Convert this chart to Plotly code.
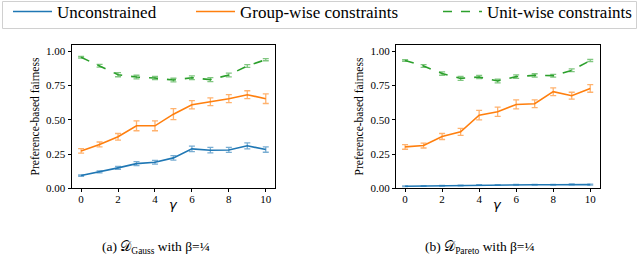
import plotly.graph_objects as go

gamma = list(range(11))

# Left panel: D_Gauss
a_unc = [0.093, 0.120, 0.149, 0.180, 0.190, 0.222, 0.288, 0.278, 0.280, 0.310, 0.283]
a_unc_err = [0.005, 0.007, 0.010, 0.014, 0.014, 0.016, 0.020, 0.020, 0.018, 0.022, 0.020]
a_grp = [0.273, 0.320, 0.376, 0.456, 0.456, 0.541, 0.610, 0.632, 0.654, 0.683, 0.654]
a_grp_err = [0.017, 0.018, 0.024, 0.036, 0.036, 0.040, 0.030, 0.028, 0.029, 0.029, 0.035]
a_unit = [0.956, 0.895, 0.829, 0.812, 0.805, 0.790, 0.807, 0.793, 0.827, 0.893, 0.939]
a_unit_err = [0.006, 0.010, 0.015, 0.013, 0.012, 0.013, 0.014, 0.014, 0.014, 0.010, 0.008]

# Right panel: D_Pareto
b_unc = [0.015, 0.017, 0.019, 0.020, 0.024, 0.024, 0.026, 0.026, 0.026, 0.029, 0.027]
b_unc_err = [0.003] * 11
b_grp = [0.302, 0.312, 0.378, 0.412, 0.534, 0.559, 0.612, 0.617, 0.705, 0.676, 0.729]
b_grp_err = [0.017, 0.018, 0.022, 0.026, 0.035, 0.034, 0.033, 0.028, 0.028, 0.025, 0.028]
b_unit = [0.932, 0.893, 0.837, 0.802, 0.812, 0.783, 0.815, 0.824, 0.822, 0.861, 0.932]
b_unit_err = [0.006, 0.010, 0.012, 0.014, 0.012, 0.013, 0.013, 0.012, 0.010, 0.010, 0.008]

series_names = ["Unconstrained", "Group-wise constraints", "Unit-wise constraints"]
colors = ["#1f77b4", "#ff7f0e", "#2ca02c"]
err_colors = ["rgba(31,119,180,0.6)", "rgba(255,127,14,0.6)", "rgba(44,160,44,0.6)"]
dashes = ["solid", "solid", "dash"]
x_ticks = [0, 2, 4, 6, 8, 10]
y_ticks = [0, 0.25, 0.5, 0.75, 1.0]
x_title = "<i>γ</i>"
y_title = "Preference-based fairness"
captions = ["(a) 𝒟<sub>Gauss</sub> with β=¼", "(b) 𝒟<sub>Pareto</sub> with β=¼"]

W, H = 640, 261
fig = go.Figure()

panels = [
    ([a_unc, a_grp, a_unit], [a_unc_err, a_grp_err, a_unit_err], "x", "y"),
    ([b_unc, b_grp, b_unit], [b_unc_err, b_grp_err, b_unit_err], "x2", "y2"),
]
legend_ids = ["legend", "legend2", "legend3"]
for p, (vals, errs, xa, ya) in enumerate(panels):
    for i in range(3):
        fig.add_trace(go.Scatter(
            x=gamma, y=vals[i], mode="lines",
            name=series_names[i],
            line=dict(color=colors[i], width=1.6, dash=dashes[i]),
            error_y=dict(type="data", array=errs[i], color=err_colors[i],
                         thickness=1.3, width=3),
            xaxis=xa, yaxis=ya,
            showlegend=(p == 0),
            legend=legend_ids[i],
        ))

axis_common = dict(
    showline=True, linecolor="black", linewidth=1, mirror=True,
    ticks="outside", ticklen=3, tickwidth=1, tickcolor="black",
    showgrid=False, zeroline=False,
    tickfont=dict(family="Liberation Serif", size=11, color="black"),
)
y0 = (H - 188.3) / H
y1 = (H - 44.7) / H
ytitle = dict(text=y_title, font=dict(family="Liberation Serif", size=11.5, color="black"), standoff=4)
fig.update_layout(
    width=W, height=H,
    margin=dict(l=0, r=0, t=0, b=0, autoexpand=False),
    paper_bgcolor="white", plot_bgcolor="white",
    xaxis=dict(domain=[71.5 / W, 275 / W], range=[-0.52, 10.5], tickvals=x_ticks,
               ticklabelstandoff=-3, **axis_common),
    yaxis=dict(domain=[y0, y1], range=[0, 1.048], tickvals=y_ticks, tickformat=".2f",
               title=ytitle, **axis_common),
    xaxis2=dict(domain=[396 / W, 599.5 / W], range=[-0.49, 10.5], tickvals=x_ticks, anchor="y2",
                ticklabelstandoff=-3, **axis_common),
    yaxis2=dict(domain=[y0, y1], range=[0, 1.048], tickvals=y_ticks, tickformat=".2f", anchor="x2",
                title=ytitle, **axis_common),
)

# x-axis titles (gamma)
for cx in [173.3, 497.7]:
    fig.add_annotation(text=x_title, x=cx / W, y=1 - 204 / H, xref="paper", yref="paper",
                       showarrow=False, xanchor="center", yanchor="middle",
                       font=dict(family="DejaVu Sans", size=13, color="black"))

leg_font = dict(family="Liberation Serif", size=17, color="black")
for lid, xpos in zip(legend_ids, [8, 191, 438]):
    fig.update_layout({lid: dict(x=xpos / W, y=1 + 6 / H, xref="paper", yref="paper",
                                 xanchor="left", yanchor="top",
                                 orientation="h", font=leg_font, bgcolor="rgba(0,0,0,0)",
                                 borderwidth=0, itemwidth=39)})

fig.add_shape(type="rect", xref="paper", yref="paper",
              x0=2.5 / W, x1=636.5 / W, y0=1 - 28.5 / H, y1=1 - 1.5 / H,
              line=dict(color="#d0d0d0", width=1), fillcolor="rgba(0,0,0,0)")

for cap, cx in zip(captions, [156, 480]):
    fig.add_annotation(text=cap, x=cx / W, y=1 - 247 / H, xref="paper", yref="paper",
                       showarrow=False, xanchor="center", yanchor="middle",
                       font=dict(family="Liberation Serif", size=13.5, color="black"))

fig.write_html("out.html", config={"displayModeBar": False},
               post_script="document.body.style.margin='0px';")
